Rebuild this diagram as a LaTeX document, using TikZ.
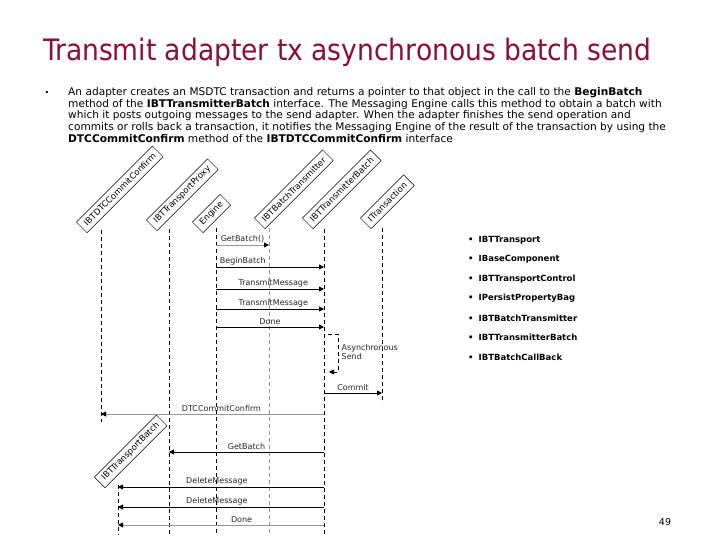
\documentclass[tikz,border=0pt]{standalone}
\usepackage{fontspec}
\setmainfont{DejaVu Sans}
\newfontfamily\condensed{DejaVu Sans Condensed}
\usetikzlibrary{arrows.meta, positioning}
\definecolor{titlered}{RGB}{140,16,52}
\definecolor{linegray}{RGB}{150,150,150}
\definecolor{textgray}{RGB}{40,40,40}
\tikzset{
  role/.style={
    draw, thin, rotate=45, anchor=south west, minimum height=15pt,
    inner xsep=5pt, inner ysep=1pt, font=\fontsize{8.5}{9}\selectfont
  },
  lifeline/.style={draw, dash pattern=on 4pt off 3pt, line width=0.7pt},
  msg/.style={draw, line width=0.9pt, -{Triangle[length=5pt,width=5pt]}},
  faint/.style={draw=linegray, -{Triangle[length=5pt,width=5pt,black]}},
  selfmsg/.style={lifeline, -{Triangle[length=5pt,width=5pt]}},
  msglabel/.style={font=\fontsize{8}{9}\selectfont, text=textgray, inner sep=1.5pt},
  iface/.style={anchor=west, inner sep=0pt, font=\fontsize{8.5}{10}\selectfont\bfseries},
}

\begin{document}
\begin{tikzpicture}[x=1pt, y=-1pt]
  \useasboundingbox[fill=white] (0,0) rectangle (720,540);

  % title and text
  \node[anchor=base west, inner sep=0pt, text=titlered,
        font=\condensed\fontsize{29.5}{31}\selectfont] (title) at (43,61)
        {Transmit adapter tx asynchronous batch send};
  \node[inner sep=0pt, font=\fontsize{8}{9}\selectfont] (bullet) at (47,93) {\textbullet};
  \node[anchor=north west, align=left, inner sep=0pt,
        font=\fontsize{10.6}{11.8}\selectfont] (body) at (68,87)
        {An adapter creates an MSDTC transaction and returns a pointer to that object in the call to the \textbf{BeginBatch}\\
         method of the \textbf{IBTTransmitterBatch} interface. The Messaging Engine calls this method to obtain a batch with\\
         which it posts outgoing messages to the send adapter. When the adapter finishes the send operation and\\
         commits or rolls back a transaction, it notifies the Messaging Engine of the result of the transaction by using the\\
         \textbf{DTCCommitConfirm} method of the \textbf{IBTDTCCommitConfirm} interface};

  % lifelines
  \coordinate (dtcL) at (101,230);
  \coordinate (proxyL) at (169,229);
  \coordinate (engL) at (216,228);
  \coordinate (btxL) at (269,228);
  \coordinate (txbL) at (324,229);
  \coordinate (itxL) at (382,228);
  \coordinate (tpbL) at (118,485);

  \node[role] (dtc) at ([xshift=-14pt,yshift=-3pt]dtcL) {IBTDTCCommitConfirm};
  \node[role] (proxy) at ([xshift=-12pt,yshift=-2pt]proxyL) {IBTTransportProxy};
  \node[role] (engine) at ([xshift=-13pt,yshift=-5pt]engL) {Engine};
  \node[role] (batchtx) at ([xshift=-4pt,yshift=-1pt]btxL) {IBTBatchTransmitter};
  \node[role] (txbatch) at ([xshift=-11pt,yshift=0pt]txbL) {IBTTransmitterBatch};
  \node[role] (itrans) at ([xshift=-11pt,yshift=-1pt]itxL) {ITransaction};
  \node[role] (trbatch) at ([xshift=-13pt,yshift=-3pt]tpbL) {IBTTransportBatch};

  \draw[lifeline] (dtcL) -- (dtcL |- 0,422);
  \draw[lifeline] (proxyL) -- (proxyL |- 0,535);
  \draw[lifeline] (engL) -- (engL |- 0,535);
  \draw[lifeline, draw=linegray] (btxL) -- (btxL |- 0,535);
  \draw[lifeline] (txbL) -- (txbL |- 0,535);
  \draw[lifeline] (itxL) -- (itxL |- 0,403);
  \draw[lifeline] (tpbL) -- (tpbL |- 0,535);

  % messages
  \draw[msg, faint] (engL |- 0,245) -- (btxL |- 0,245)
    node[msglabel, midway, above] {GetBatch()};
  \draw[msg] (engL |- 0,267) -- (txbL |- 0,267)
    node[msglabel, pos=0, anchor=south west, xshift=2pt] {BeginBatch};
  \draw[msg] (engL |- 0,289) -- (txbL |- 0,289)
    node[msglabel, pos=0.53, above] {TransmitMessage};
  \draw[msg] (engL |- 0,309) -- (txbL |- 0,309)
    node[msglabel, pos=0.53, above] {TransmitMessage};
  \draw[msg] (engL |- 0,327) -- (txbL |- 0,327)
    node[msglabel, midway, above] {Done};
  \draw[selfmsg] ([xshift=4pt]txbL |- 0,334) -- ++(10,0) -- ++(0,38) -- ++(-9,0);
  \node[msglabel, anchor=west, align=left] (async) at (340,352) {Asynchronous\\Send};
  \draw[msg] (txbL |- 0,393) -- (itxL |- 0,393)
    node[msglabel, midway, above] {Commit};
  \draw[msg, faint] (txbL |- 0,414) -- (dtcL |- 0,414)
    node[msglabel, pos=0.46, above] {DTCCommitConfirm};
  \draw[msg] (txbL |- 0,452) -- (proxyL |- 0,452)
    node[msglabel, midway, above] {GetBatch};
  \draw[msg] (txbL |- 0,487) -- (tpbL |- 0,487)
    node[msglabel, pos=0.52, above] {DeleteMessage};
  \draw[msg] (txbL |- 0,507) -- (tpbL |- 0,507)
    node[msglabel, pos=0.52, above] {DeleteMessage};
  \draw[msg, faint] (txbL |- 0,525) -- (tpbL |- 0,525)
    node[msglabel, pos=0.4, above] {Done};

  % interfaces list
  \begin{scope}
    \clip (440,225) rectangle (720,360);
    \foreach \name [count=\i] in {IBTTransport, IBaseComponent, IBTTransportControl,
        IPersistPropertyBag, IBTBatchTransmitter, IBTTransmitterBatch, IBTBatchCallBack}
      \node[iface] (iface\i) at (468,{240+19.5*(\i-1)}) {\textbullet\hspace{5pt}\name};
  \end{scope}

  \node[font=\fontsize{9.5}{11}\selectfont] (page) at (665,522) {49};
\end{tikzpicture}
\end{document}
